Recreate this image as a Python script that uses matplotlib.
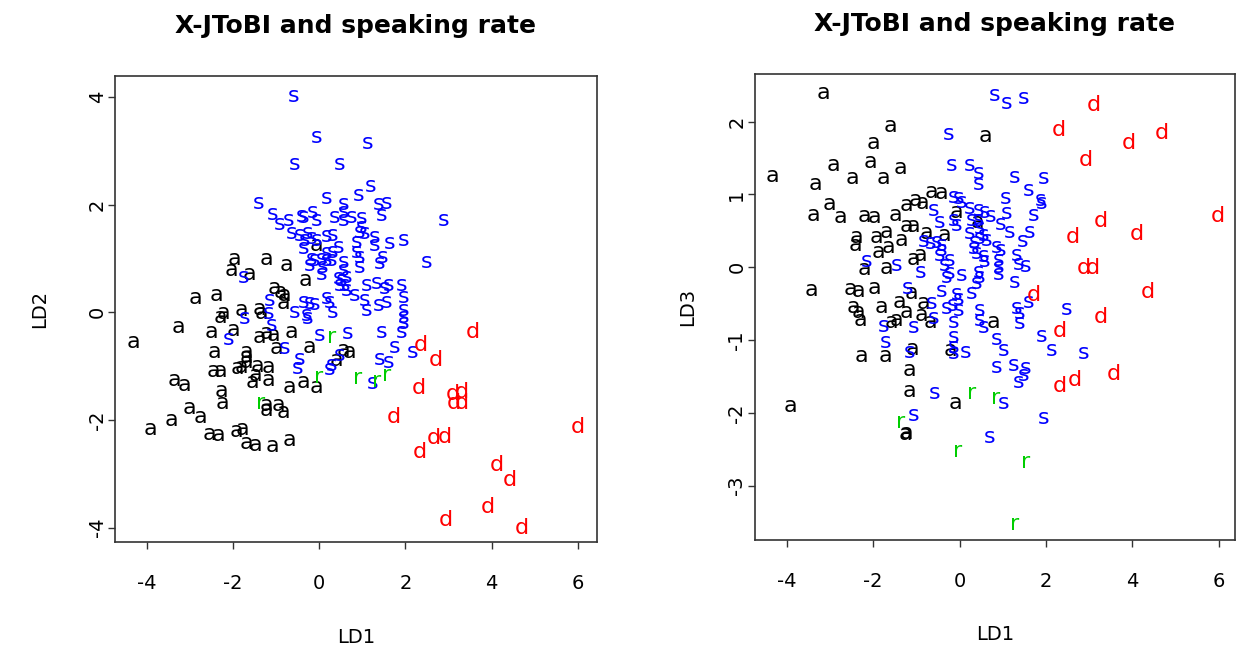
import matplotlib
matplotlib.use("Agg")
import matplotlib.pyplot as plt

plt.rcParams['font.family'] = ['DejaVu Sans']
plt.rcParams['axes.unicode_minus'] = False

# ---------------- data: left panel (LD1 vs LD2) ----------------
left_a_ld1 = [-4.32, -3.27, -2.88, -2.38, -1.96, -1.22, -0.76, -2.03, -1.61, -0.33, -0.06, -1.03, -0.91, -0.80,
              -0.84, -2.23, -2.30, -1.80, -1.38, -1.33, -2.50, -2.00, -1.38, -1.22, -1.07, -0.64, -1.00, -0.22,
              -2.42, -1.68, -1.68, -1.68, -2.46, -2.30, -1.89, -1.80, -1.43, -1.17, -3.35, -3.12, -2.26, -1.56,
              -1.49, -1.18, -0.68, -0.37, -0.06, -2.25, -1.22, -0.95, -1.22, -0.84, -3.00, -2.75, -3.42, -3.91,
              -2.54, -2.34, -1.93, -1.78, -1.70, -1.49, -1.09, -0.68, 0.56, 0.71, 0.40]
left_a_ld2 = [-0.55, -0.27, 0.26, 0.32, 1.00, 1.00, 0.88, 0.79, 0.72, 0.60, 1.25, 0.45, 0.38, 0.32,
              0.17, -0.02, -0.08, 0.04, 0.07, -0.02, -0.36, -0.33, -0.45, -0.39, -0.42, -0.36, -0.67, -0.64,
              -0.73, -0.73, -0.83, -0.92, -1.10, -1.09, -1.04, -1.01, -1.00, -1.01, -1.26, -1.35, -1.46, -1.29,
              -1.17, -1.26, -1.38, -1.30, -1.38, -1.69, -1.72, -1.72, -1.82, -1.85, -1.78, -1.95, -2.00, -2.16,
              -2.26, -2.28, -2.20, -2.17, -2.42, -2.47, -2.49, -2.37, -0.70, -0.73, -0.89]

left_s_ld1 = [-0.60, -0.05, 1.12, -0.58, 0.48, 1.19, 0.91, 0.17, -1.40, 0.56, 1.37, 1.57, 1.45, 2.88,
              -1.07, -0.91, -0.70, -0.41, -0.37, -0.15, -0.05, 0.36, 0.56, 0.56, 0.75, 0.98, 0.98, 0.94,
              1.06, -0.64, -0.45, -0.26, -0.33, -0.18, -0.06, -0.37, 0.32, 0.44, 0.32, 0.17, 0.17, 0.87,
              0.87, 0.94, 0.94, 1.29, 1.29, 1.64, 1.97, 1.48, 1.41, 2.49, -0.18, -0.10, 0.06, -0.22,
              0.17, 0.09, 0.06, 0.29, 0.56, 0.56, 0.44, 0.52, 0.64, 0.60, 0.48, 0.64, 0.83, 1.10,
              1.33, 1.60, 1.91, 1.06, 1.10, 1.37, 1.56, 1.52, 1.95, 1.95, 1.95, 1.95, 1.91, 0.25,
              0.32, 0.67, 1.45, 1.76, 2.17, 1.41, 1.60, 1.25, -1.76, -1.14, -1.18, -1.10, -0.37, -0.22,
              -0.10, -0.56, -0.29, -0.26, 0.17, -1.72, -2.11, 0.00, -0.80, -0.45, -0.49, 0.25, 0.48, 0.29]
left_s_ld2 = [4.02, 3.26, 3.14, 2.75, 2.75, 2.35, 2.19, 2.12, 2.04, 2.01, 2.01, 2.03, 1.80, 1.72,
              1.83, 1.65, 1.72, 1.79, 1.77, 1.87, 1.72, 1.78, 1.86, 1.72, 1.78, 1.75, 1.59, 1.50,
              1.47, 1.47, 1.44, 1.47, 1.34, 1.38, 1.34, 1.19, 1.44, 1.22, 1.13, 1.41, 1.10, 1.31,
              1.13, 1.03, 0.85, 1.40, 1.25, 1.28, 1.34, 1.03, 0.91, 0.94, 1.00, 0.97, 1.00, 0.88,
              0.97, 0.85, 0.72, 0.97, 0.94, 0.79, 0.63, 0.60, 0.66, 0.51, 0.51, 0.41, 0.32, 0.51,
              0.54, 0.51, 0.51, 0.23, 0.04, 0.14, 0.20, 0.45, 0.29, 0.04, -0.08, -0.20, -0.36, 0.20,
              0.01, -0.39, -0.36, -0.64, -0.73, -0.86, -0.92, -1.32, 0.66, 0.23, -0.02, -0.24, 0.20, 0.17,
              0.15, 0.01, -0.05, -0.11, 0.26, -0.11, -0.50, -0.42, -0.67, -0.86, -1.04, -1.06, -0.79, -0.98]

left_d_ld1 = [3.57, 2.35, 2.71, 2.30, 3.11, 3.30, 3.13, 3.30, 1.72, 2.65, 2.92, 2.34, 4.13, 4.42, 3.92, 2.94, 4.70, 5.99]
left_d_ld2 = [-0.36, -0.61, -0.89, -1.41, -1.51, -1.48, -1.68, -1.69, -1.94, -2.34, -2.32, -2.59, -2.84, -3.12, -3.61, -3.86, -4.01, -2.14]

left_r_ld1 = [0.29, -0.02, 0.90, 1.56, 1.33, -1.36]
left_r_ld2 = [-0.45, -1.20, -1.23, -1.17, -1.28, -1.68]

# ---------------- data: right panel (LD1 vs LD3) ----------------
right_a_ld1 = [-3.14, -1.61, -2.00, 0.61, -4.32, -2.91, -2.06, -1.37, -3.34, -2.49, -1.75, -3.00, -3.38, -2.76,
               -2.21, -1.96, -1.49, -1.22, -1.01, -0.86, -0.66, -0.43, -0.06, -1.22, -1.07, -2.39, -2.42, -1.92,
               -1.69, -1.88, -1.64, -1.35, -0.76, -0.34, -1.07, -0.91, -2.19, -1.69, -3.42, -2.53, -2.33, -1.96,
               -1.11, -2.46, -2.33, -2.30, -1.80, -1.38, -1.22, -1.45, -1.57, -0.84, -0.88, -0.68, -2.26, -1.71,
               -1.09, -0.22, -1.17, -1.17, -3.91, -0.09, -1.24, -1.26, 0.78, 0.41]
right_a_ld3 = [2.39, 1.94, 1.71, 1.80, 1.26, 1.40, 1.45, 1.36, 1.14, 1.22, 1.22, 0.87, 0.72, 0.69,
               0.70, 0.69, 0.72, 0.85, 0.92, 0.88, 1.03, 1.02, 0.76, 0.56, 0.56, 0.42, 0.31, 0.41,
               0.49, 0.21, 0.28, 0.38, 0.47, 0.44, 0.11, 0.17, -0.03, -0.01, -0.31, -0.30, -0.33, -0.29,
               -0.35, -0.54, -0.61, -0.72, -0.54, -0.48, -0.61, -0.73, -0.75, -0.49, -0.66, -0.75, -1.22, -1.22,
               -1.12, -1.14, -1.41, -1.70, -1.91, -1.87, -2.27, -2.29, -0.75, 0.62]

right_s_ld1 = [0.82, 1.08, 1.48, -0.26, -0.18, 0.24, 0.44, 0.44, 1.28, 1.94, 1.59, 1.88, 1.91, 1.06,
               1.09, 1.71, 0.94, 1.17, 1.63, 1.46, 0.94, 0.90, 0.90, 0.90, 1.32, 1.36, 1.54, 1.28,
               -0.03, 0.05, -0.61, 0.24, 0.44, 0.59, 0.71, -0.45, -0.14, -0.06, 0.28, 0.44, 0.47, 0.24,
               0.47, 0.63, 0.36, -0.53, -0.41, -0.41, -0.45, 0.32, 0.40, 0.55, 0.59, -0.34, -0.22, 0.05,
               -0.30, 0.44, 0.47, 0.40, 0.28, -0.64, -0.41, -0.31, -0.15, -0.06, -0.03, -0.03, -0.84, -0.68,
               -2.15, -1.45, -0.91, -1.19, -0.61, -1.76, -1.72, -1.07, -1.15, -0.14, -0.14, -0.14, -0.13, 0.13,
               0.47, 0.47, 0.55, 0.86, 0.86, -0.57, -1.07, 0.69, 1.03, 1.94, 1.33, 1.40, 1.59, 1.40,
               2.48, 1.01, 1.90, 2.13, 2.87, 1.25, 1.52, 1.48, 1.36, -0.14, -0.22, 0.55, 0.86]
right_s_ld3 = [2.37, 2.26, 2.32, 1.83, 1.41, 1.40, 1.30, 1.15, 1.24, 1.22, 1.06, 0.92, 0.88, 0.95,
               0.74, 0.72, 0.60, 0.49, 0.48, 0.36, 0.24, 0.10, 0.00, -0.09, 0.17, 0.05, 0.02, -0.20,
               0.95, 0.90, 0.79, 0.81, 0.79, 0.76, 0.70, 0.62, 0.65, 0.58, 0.65, 0.65, 0.54, 0.47,
               0.40, 0.38, 0.35, 0.35, 0.31, 0.24, 0.17, 0.26, 0.19, 0.15, 0.08, 0.03, -0.08, -0.11,
               -0.13, -0.06, -0.13, -0.22, -0.36, -0.49, -0.33, -0.56, -0.52, -0.37, -0.44, -0.59, 0.36, 0.34,
               0.08, 0.03, -0.06, -0.28, -0.70, -0.81, -1.02, -0.82, -1.16, -0.75, -0.96, -1.09, -1.18, -1.16,
               -0.59, -0.72, -0.82, -0.98, -1.37, -1.73, -2.03, -2.33, -1.86, -2.07, -0.56, -0.63, -0.48, -0.76,
               -0.58, -1.14, -0.95, -1.14, -1.18, -1.34, -1.39, -1.48, -1.57, 0.97, 0.10, 0.44, 0.28]

right_d_ld1 = [3.10, 2.29, 4.68, 3.91, 2.93, 3.27, 2.63, 4.10, 5.97, 2.87, 3.08, 4.37, 1.71, 3.27, 2.33, 3.56, 2.67, 2.33]
right_d_ld3 = [2.23, 1.89, 1.84, 1.70, 1.47, 0.64, 0.42, 0.46, 0.70, -0.01, -0.01, -0.34, -0.38, -0.68, -0.88, -1.46, -1.55, -1.63]

right_r_ld1 = [0.28, 0.84, -1.36, -0.05, 1.52, 1.28]
right_r_ld3 = [-1.73, -1.80, -2.12, -2.53, -2.67, -3.52]

title_text = "X-JToBI and speaking rate"
class_colors = {"a": "black", "s": "#0000FF", "d": "#FF0000", "r": "#00CD00"}

# ---------------- figure ----------------
fig = plt.figure(figsize=(12.36, 6.5), dpi=100)
ax1 = fig.add_axes([0.0930, 0.1666, 0.3898, 0.7169])
ax2 = fig.add_axes([0.6106, 0.1697, 0.3886, 0.7165])

panels = [
    (ax1, [("a", left_a_ld1, left_a_ld2), ("s", left_s_ld1, left_s_ld2),
           ("d", left_d_ld1, left_d_ld2), ("r", left_r_ld1, left_r_ld2)],
     (-4.74, 6.44), (-4.264, 4.398), [-4, -2, 0, 2, 4], "LD2", -0.1557, -0.2045),
    (ax2, [("a", right_a_ld1, right_a_ld3), ("s", right_s_ld1, right_s_ld3),
           ("d", right_d_ld1, right_d_ld3), ("r", right_r_ld1, right_r_ld3)],
     (-4.741, 6.377), (-3.742, 2.655), [-3, -2, -1, 0, 1, 2], "LD3", -0.1389, -0.2046),
]

for ax, groups, xl, yl, yt, ylab, ylx, xly in panels:
    for lab, xs, ys in groups:
        for x, y in zip(xs, ys):
            ax.text(x, y, lab, color=class_colors[lab], fontsize=16,
                    ha="center", va="center")
    ax.set_xlim(*xl)
    ax.set_ylim(*yl)
    ax.set_xticks([-4, -2, 0, 2, 4, 6])
    ax.set_yticks(yt)
    ax.tick_params(axis="both", direction="out", length=5, width=1.0,
                   color="#333333", labelsize=14)
    ax.tick_params(axis="x", pad=18)
    ax.tick_params(axis="y", pad=1, labelrotation=90)
    for t in ax.get_yticklabels():
        t.set_va("center")
    for sp in ax.spines.values():
        sp.set_color("#333333")
        sp.set_linewidth(1.2)
    ax.set_title(title_text, fontsize=18, fontweight="bold", pad=31)
    ax.set_xlabel("LD1", fontsize=14)
    ax.set_ylabel(ylab, fontsize=14)
    ax.xaxis.label.set_va("center")
    ax.yaxis.label.set_va("center")
    ax.xaxis.set_label_coords(0.5, xly)
    ax.yaxis.set_label_coords(ylx, 0.5)

fig.savefig("out.png", dpi=100)
